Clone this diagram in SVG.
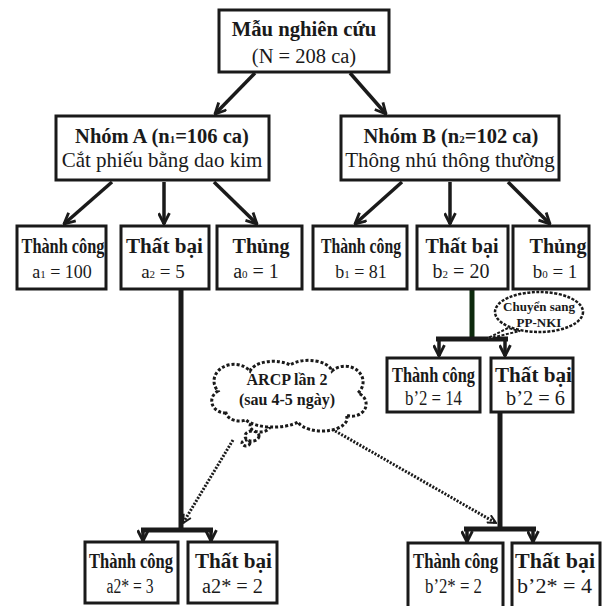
<svg xmlns="http://www.w3.org/2000/svg" width="602" height="606" viewBox="0 0 602 606">
<style>
  .box { fill: #fff; stroke: #1a1a1a; stroke-width: 3; }
  .t { font-family: "Liberation Serif", "Times New Roman", serif; fill: #1a1a1a; text-anchor: middle; }
  .b { font-weight: bold; }
  .conn { stroke: #1a1a1a; stroke-width: 3.5; fill: none; }
  .thick { stroke: #1a1a1a; stroke-width: 5; fill: none; }
  .dot { stroke: #1a1a1a; stroke-width: 3; stroke-dasharray: 2 1.5; fill: none; }
  .cloud { fill: #fff; stroke: #1a1a1a; stroke-width: 3; stroke-dasharray: 3 2; }
  .sub { font-size: 11px; }
</style>
<defs>
  <marker id="arr" viewBox="0 0 12 12" refX="11" refY="6" markerWidth="13" markerHeight="13" markerUnits="userSpaceOnUse" orient="auto">
    <path d="M1,1 L11,6 L1,11" fill="none" stroke="#1a1a1a" stroke-width="2.6"/>
  </marker>
  <marker id="arrs" viewBox="0 0 12 12" refX="11" refY="6" markerWidth="10" markerHeight="10" markerUnits="userSpaceOnUse" orient="auto">
    <path d="M1,1 L11,6 L1,11" fill="none" stroke="#1a1a1a" stroke-width="2.4"/>
  </marker>
</defs>
<rect width="602" height="606" fill="#fff"/>

<g id="connectors">
  <line class="conn" x1="255" y1="73" x2="215" y2="114" marker-end="url(#arr)"/>
  <line class="conn" x1="350" y1="73" x2="386" y2="114" marker-end="url(#arr)"/>
  <line class="conn" x1="112" y1="182" x2="64" y2="224" marker-end="url(#arr)"/>
  <line class="conn" x1="164" y1="182" x2="164" y2="224" marker-end="url(#arr)"/>
  <line class="conn" x1="214" y1="182" x2="257" y2="224" marker-end="url(#arr)"/>
  <line class="conn" x1="402" y1="182" x2="355" y2="224" marker-end="url(#arr)"/>
  <line class="conn" x1="450" y1="182" x2="450" y2="224" marker-end="url(#arr)"/>
  <line class="conn" x1="508" y1="182" x2="550" y2="224" marker-end="url(#arr)"/>

  <line class="thick" x1="181" y1="289" x2="181" y2="530"/>
  <line class="thick" x1="141" y1="530" x2="213" y2="530"/>
  <line class="conn" x1="143" y1="530" x2="143" y2="541" marker-end="url(#arr)"/>
  <line class="conn" x1="211" y1="530" x2="211" y2="541" marker-end="url(#arr)"/>

  <line x1="472" y1="289" x2="472" y2="339" stroke="#0d2a0d" stroke-width="5"/>
  <line class="thick" x1="436" y1="339" x2="508" y2="339"/>
  <line class="conn" x1="439" y1="339" x2="439" y2="356" marker-end="url(#arr)"/>
  <line class="conn" x1="505" y1="339" x2="505" y2="356" marker-end="url(#arr)"/>

  <line class="thick" x1="500" y1="412" x2="500" y2="529"/>
  <line class="thick" x1="464" y1="529" x2="536" y2="529"/>
  <line class="conn" x1="467" y1="529" x2="467" y2="542" marker-end="url(#arr)"/>
  <line class="conn" x1="533" y1="529" x2="533" y2="542" marker-end="url(#arr)"/>

  <line class="dot" x1="233" y1="440" x2="183" y2="523" marker-end="url(#arrs)"/>
  <line class="dot" x1="323" y1="424" x2="496" y2="523" marker-end="url(#arrs)"/>
</g>

<g id="root">
  <rect class="box" x="219" y="10" width="170" height="62"/>
  <text class="t b" x="304" y="36" font-size="20.7">Mẫu nghiên cứu</text>
  <text class="t" x="304" y="63" font-size="20.5">(N = 208 ca)</text>
</g>

<g id="groupA">
  <rect class="box" x="56" y="116" width="213" height="64"/>
  <text class="t b" x="162" y="143" font-size="20.5">Nhóm A (n<tspan class="sub">1</tspan>=106 ca)</text>
  <text class="t" x="162" y="167" font-size="21">Cắt phiếu bằng dao kim</text>
</g>

<g id="groupB">
  <rect class="box" x="341" y="116" width="218" height="64"/>
  <text class="t b" x="451" y="143" font-size="20.5">Nhóm B (n<tspan class="sub">2</tspan>=102 ca)</text>
  <text class="t" x="450" y="167" font-size="21">Thông nhú thông thường</text>
</g>

<g id="a1">
  <rect class="box" x="17" y="226" width="89" height="63"/>
  <text class="t b" x="63" y="253" font-size="21" textLength="83" lengthAdjust="spacingAndGlyphs">Thành công</text>
  <text class="t" x="62" y="278" font-size="18">a<tspan class="sub">1</tspan> = 100</text>
</g>
<g id="a2">
  <rect class="box" x="121" y="226" width="88" height="63"/>
  <text class="t b" x="164.5" y="253" font-size="21" textLength="77" lengthAdjust="spacingAndGlyphs">Thất bại</text>
  <text class="t" x="163" y="278" font-size="19">a<tspan class="sub">2</tspan> = 5</text>
</g>
<g id="a0">
  <rect class="box" x="217" y="226" width="85" height="63"/>
  <text class="t b" x="261" y="253" font-size="21" textLength="57" lengthAdjust="spacingAndGlyphs">Thủng</text>
  <text class="t" x="256" y="278" font-size="20">a<tspan class="sub">0</tspan> = 1</text>
</g>

<g id="b1">
  <rect class="box" x="313" y="226" width="94" height="63"/>
  <text class="t b" x="361" y="253" font-size="21" textLength="80" lengthAdjust="spacingAndGlyphs">Thành công</text>
  <text class="t" x="361" y="278" font-size="18">b<tspan class="sub">1</tspan> = 81</text>
</g>
<g id="b2">
  <rect class="box" x="417" y="226" width="91" height="63"/>
  <text class="t b" x="462" y="253" font-size="21" textLength="73" lengthAdjust="spacingAndGlyphs">Thất bại</text>
  <text class="t" x="461" y="278" font-size="20">b<tspan class="sub">2</tspan> = 20</text>
</g>
<g id="b0">
  <rect class="box" x="513" y="226" width="76" height="63"/>
  <text class="t b" x="558" y="253" font-size="21" textLength="57" lengthAdjust="spacingAndGlyphs">Thủng</text>
  <text class="t" x="555" y="278" font-size="19">b<tspan class="sub">0</tspan> = 1</text>
</g>

<g id="callout-nki">
  <path d="M508,328 L486,339 L520,331 Z" fill="#fff" stroke="#1a1a1a" stroke-width="2" stroke-dasharray="3 1.5"/>
  <ellipse cx="539" cy="312" rx="44" ry="20" fill="#fff" stroke="#1a1a1a" stroke-width="2.5" stroke-dasharray="3 1.5"/>
  <text class="t b" x="539" y="311" font-size="13">Chuyển sang</text>
  <text class="t b" x="539" y="327" font-size="13">PP-NKI</text>
</g>

<g id="b2p-success">
  <rect class="box" x="387" y="358" width="93" height="54"/>
  <text class="t b" x="433.5" y="382" font-size="21" textLength="83" lengthAdjust="spacingAndGlyphs">Thành công</text>
  <text class="t" x="433.5" y="405" font-size="20" textLength="57" lengthAdjust="spacingAndGlyphs">b’2 = 14</text>
</g>
<g id="b2p-fail">
  <rect class="box" x="491" y="358" width="82" height="54"/>
  <text class="t b" x="533.5" y="382" font-size="21" textLength="77" lengthAdjust="spacingAndGlyphs">Thất bại</text>
  <text class="t" x="535.5" y="405" font-size="20" textLength="59" lengthAdjust="spacingAndGlyphs">b’2 = 6</text>
</g>

<g id="cloud-arcp">
  <ellipse class="cloud" cx="246" cy="443" rx="4" ry="3"/>
  <ellipse class="cloud" cx="252" cy="436" rx="7" ry="5"/>
  <ellipse class="cloud" cx="260" cy="426" rx="10" ry="6"/>
  <path class="cloud" d="M226,413 a14,12 0 0 1 -8,-22 a18,15 0 0 1 32,-20 a24,13 0 0 1 40,-6 a24,13 0 0 1 42,6 a16,14 0 0 1 26,22 a14,12 0 0 1 -12,22 a24,12 0 0 1 -48,7 a30,12 0 0 1 -52,-2 a14,10 0 0 1 -20,-7 Z"/>
  <text class="t b" x="287" y="385" font-size="16">ARCP lần 2</text>
  <text class="t b" x="287" y="405" font-size="16">(sau 4-5 ngày)</text>
</g>

<g id="a2s-success">
  <rect class="box" x="85" y="542" width="93" height="61"/>
  <text class="t b" x="131" y="568" font-size="21" textLength="84" lengthAdjust="spacingAndGlyphs">Thành công</text>
  <text class="t" x="130" y="593" font-size="20" textLength="47" lengthAdjust="spacingAndGlyphs">a2* = 3</text>
</g>
<g id="a2s-fail">
  <rect class="box" x="188" y="542" width="89" height="61"/>
  <text class="t b" x="233.5" y="568" font-size="21" textLength="77" lengthAdjust="spacingAndGlyphs">Thất bại</text>
  <text class="t" x="232.5" y="593" font-size="20" textLength="61" lengthAdjust="spacingAndGlyphs">a2* = 2</text>
</g>
<g id="b2s-success">
  <rect class="box" x="408" y="543" width="95" height="70"/>
  <text class="t b" x="455.5" y="568" font-size="21" textLength="85" lengthAdjust="spacingAndGlyphs">Thành công</text>
  <text class="t" x="453.5" y="593" font-size="20" textLength="57" lengthAdjust="spacingAndGlyphs">b’2* = 2</text>
</g>
<g id="b2s-fail">
  <rect class="box" x="512" y="543" width="88" height="70"/>
  <text class="t b" x="555" y="568" font-size="21" textLength="80" lengthAdjust="spacingAndGlyphs">Thất bại</text>
  <text class="t" x="554.5" y="593" font-size="20" textLength="75" lengthAdjust="spacingAndGlyphs">b’2* = 4</text>
</g>
</svg>
